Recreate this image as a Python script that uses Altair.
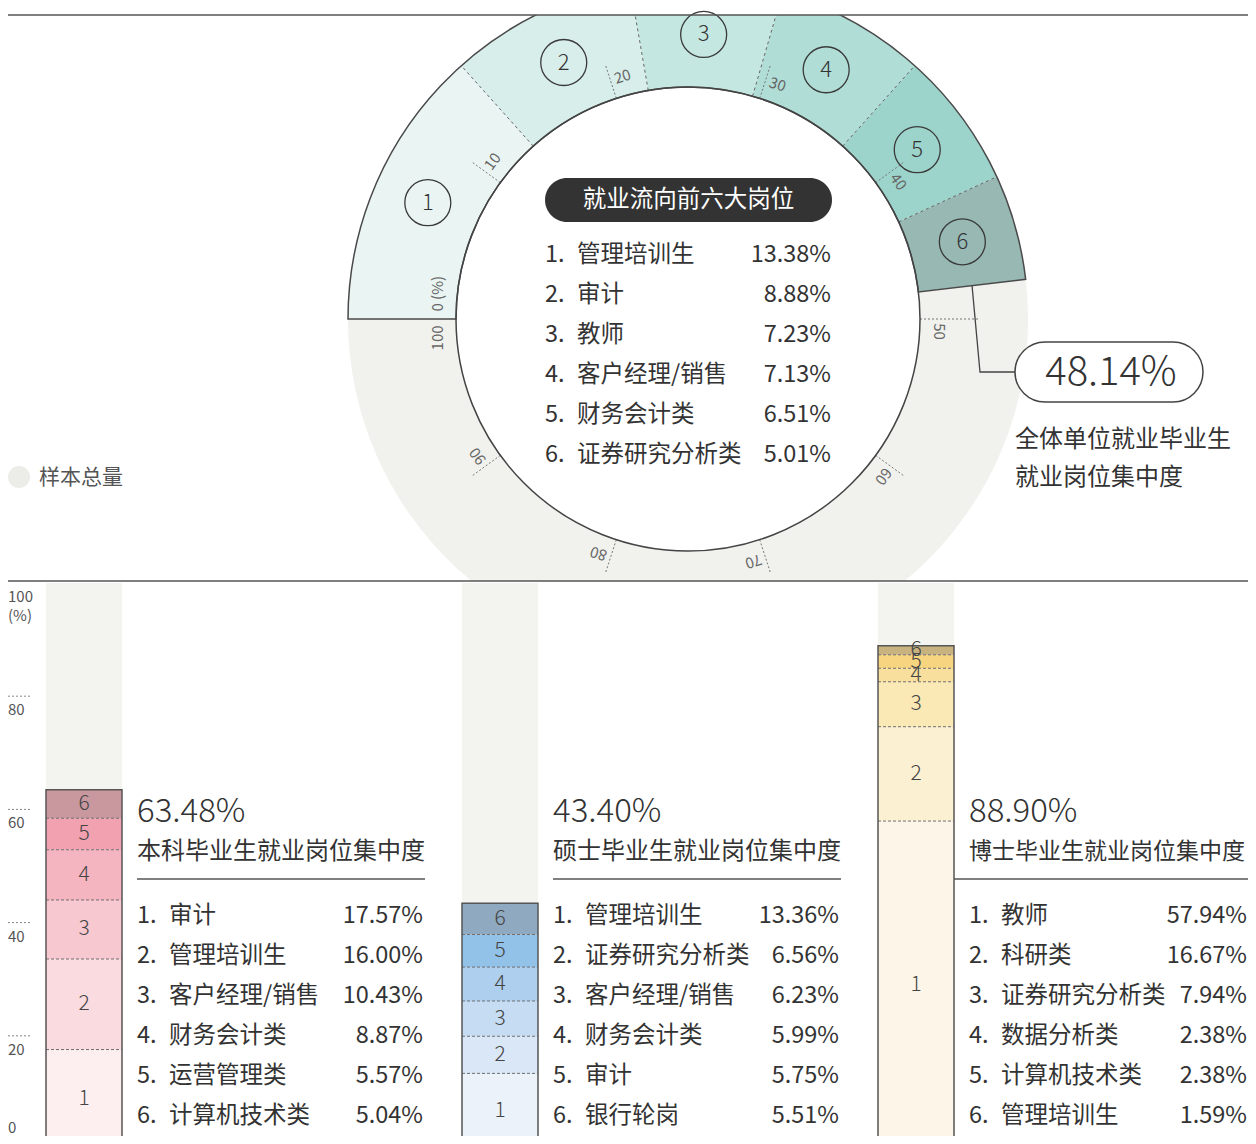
import math
import altair as alt
import pandas as pd

# ---------------- data ----------------
top_jobs = ["管理培训生", "审计", "教师", "客户经理/销售", "财务会计类", "证券研究分析类"]
top_pct = [13.38, 8.88, 7.23, 7.13, 6.51, 5.01]
top_total = 48.14
ring_ticks = [10, 20, 30, 40, 50, 60, 70, 80, 90]

group_titles = ["本科毕业生就业岗位集中度", "硕士毕业生就业岗位集中度", "博士毕业生就业岗位集中度"]
group_totals = [63.48, 43.40, 88.90]
ug_jobs = ["审计", "管理培训生", "客户经理/销售", "财务会计类", "运营管理类", "计算机技术类"]
ug_pct = [17.57, 16.00, 10.43, 8.87, 5.57, 5.04]
ms_jobs = ["管理培训生", "证券研究分析类", "客户经理/销售", "财务会计类", "审计", "银行轮岗"]
ms_pct = [13.36, 6.56, 6.23, 5.99, 5.75, 5.51]
phd_jobs = ["教师", "科研类", "证券研究分析类", "数据分析类", "计算机技术类", "管理培训生"]
phd_pct = [57.94, 16.67, 7.94, 2.38, 2.38, 1.59]
axis_ticks = [0, 20, 40, 60, 80, 100]

# ---------------- style ----------------
FONT = "Noto Sans CJK SC"
INK = "#333333"
W, H = 1240, 1121
CX, CY = 680, 304
R_OUT, R_IN, R_MID, R_LAB = 340, 232, 285, 251
ring_colors = ["#eaf5f3", "#d8eeea", "#c5e7e1", "#b0ddd6", "#9cd4cb", "#97b8b3"]
REST = "#f1f1ed"
group_colors = [
    ["#fdeeef", "#fadbe0", "#f8c8d0", "#f5b5c0", "#f1a1b0", "#c9989f"],
    ["#ecf2f9", "#d9e7f6", "#c5dcf2", "#aecfee", "#93c2e8", "#8fa9c0"],
    ["#fdf6e8", "#fcf0d3", "#fae8b5", "#f9df9d", "#f7d47f", "#c8b27f"],
]
COL_BG = "#f3f3ef"

XP = alt.Scale(domain=[0, W], range=[0, W], nice=False, zero=False, padding=0)
YP = alt.Scale(domain=[0, H], range=[0, H], nice=False, zero=False, padding=0)
TS = alt.Scale(domain=[0, 100], range=[1.5 * math.pi, 3.5 * math.pi], nice=False, zero=False)
XG = alt.Scale(domain=[0, 2], range=[76, 908], nice=False, zero=False, padding=0)
YV = alt.Scale(domain=[0, 100], range=[1134, 568], nice=False, zero=False, padding=0)
HW = 38 / 416  # half bar width in group units


def X(f):
    return alt.X(f, type="quantitative", scale=XP, axis=None)


def Y(f):
    return alt.Y(f, type="quantitative", scale=YP, axis=None)


def XGf(f):
    return alt.X(f, type="quantitative", scale=XG, axis=None)


def YVf(f):
    return alt.Y(f, type="quantitative", scale=YV, axis=None)


def pol(vexpr, r):
    a = f"(1.5 + ({vexpr})/50)*PI"
    return f"{CX} + ({r})*sin({a})", f"{CY} - ({r})*cos({a})"


def txt(**kw):
    base = dict(font=FONT, color=INK, baseline="middle")
    base.update(kw)
    return base


layers = []

# ---------------- ring ----------------
keys, starts, ends = [], [], []
c = 0.0
for i, v in enumerate(top_pct):
    keys.append(str(i + 1))
    starts.append(c)
    c += v
    ends.append(c)
keys.append("rest")
starts.append(c)
ends.append(100)
ring_df = pd.DataFrame({"key": keys, "start": starts, "end": ends})

layers.append(
    alt.Chart(ring_df).mark_arc(radius=R_OUT, radius2=R_IN, clip=True, strokeWidth=0).encode(
        theta=alt.Theta("start:Q", scale=TS, stack=None),
        theta2=alt.Theta2("end:Q"),
        color=alt.Color("key:N", scale=alt.Scale(domain=keys, range=ring_colors + [REST]), legend=None),
        x=alt.value(CX), y=alt.value(CY),
    )
)

# dashed separators between segments
bnd_df = pd.DataFrame({"v": ends[:5]})
xa, ya = pol("datum.v", R_IN)
xb, yb = pol("datum.v", R_OUT)
layers.append(
    alt.Chart(bnd_df).transform_calculate(xa=xa, ya=ya, xb=xb, yb=yb)
    .mark_rule(clip=True, color="#666666", strokeWidth=1, strokeDash=[3, 3])
    .encode(x=X("xa"), y=Y("ya"), x2="xb:Q", y2="yb:Q")
)

# ticks
tick_df = pd.DataFrame({"v": ring_ticks})
xa, ya = pol("datum.v", R_IN)
xb, yb = pol("datum.v", "datum.ro")
layers.append(
    alt.Chart(tick_df).transform_calculate(ro="datum.v == 50 ? 292 : 268")
    .transform_calculate(xa=xa, ya=ya, xb=xb, yb=yb)
    .mark_rule(clip=True, color="#777777", strokeWidth=1, strokeDash=[2, 2])
    .encode(x=X("xa"), y=Y("ya"), x2="xb:Q", y2="yb:Q")
)

# outline of the coloured block
layers.append(
    alt.Chart(pd.DataFrame({"start": [0], "end": [top_total]}))
    .mark_arc(radius=R_OUT, radius2=R_IN, clip=True, fillOpacity=0, stroke="#4a4a4a", strokeWidth=1.5)
    .encode(theta=alt.Theta("start:Q", scale=TS, stack=None), theta2="end:Q",
            x=alt.value(CX), y=alt.value(CY))
)
# inner circle
layers.append(
    alt.Chart(pd.DataFrame({"start": [0], "end": [100]}))
    .mark_arc(radius=R_IN, radius2=0, clip=True, fillOpacity=0, stroke="#444444", strokeWidth=1.5)
    .encode(theta=alt.Theta("start:Q", scale=TS, stack=None), theta2="end:Q",
            x=alt.value(CX), y=alt.value(CY))
)

# mask below the divider
layers.append(
    alt.Chart(pd.DataFrame({"x": [0], "x2": [W], "y": [566], "y2": [H]}))
    .mark_rect(color="white")
    .encode(x=X("x"), x2="x2:Q", y=Y("y"), y2="y2:Q")
)

# tick labels
lab_rows = [{"t": str(v), "pos": v + 0.8, "ang": (270 + 3.6 * v) % 360} for v in ring_ticks]
lab_rows.append({"t": "0 (%)", "pos": 1.6, "ang": 270})
lab_rows.append({"t": "100", "pos": 98.8, "ang": 270})
xa, ya = pol("datum.pos", R_LAB)
layers.append(
    alt.Chart(pd.DataFrame(lab_rows)).transform_calculate(xa=xa, ya=ya)
    .mark_text(**txt(fontSize=15, color="#666666", align="center"))
    .encode(x=X("xa"), y=Y("ya"), text="t:N", angle=alt.Angle("ang:Q", scale=None))
)

# numbered circles
circ_df = pd.DataFrame({"n": [str(i + 1) for i in range(6)],
                        "mid": [s + v / 2 for s, v in zip(starts[:6], top_pct)]})
xa, ya = pol("datum.mid", R_MID)
circ_base = alt.Chart(circ_df).transform_calculate(xa=xa, ya=ya)
layers.append(
    circ_base.mark_point(shape="circle", size=2116, filled=False, color="#3a3a3a", strokeWidth=1.3, opacity=1)
    .encode(x=X("xa"), y=Y("ya"))
)
layers.append(
    circ_base.mark_text(**txt(fontSize=22, fontWeight=300, align="center"))
    .encode(x=X("xa"), y=Y("ya"), text="n:N")
)

# center title pill
layers.append(
    alt.Chart(pd.DataFrame({"x": [537], "x2": [824], "y": [163], "y2": [207]}))
    .mark_rect(cornerRadius=22, color="#333333")
    .encode(x=X("x"), x2="x2:Q", y=Y("y"), y2="y2:Q")
)
layers.append(
    alt.Chart(pd.DataFrame({"t": ["就业流向前六大岗位"], "x": [680.5], "y": [185]}))
    .mark_text(**txt(fontSize=23.5, color="white", align="center"))
    .encode(x=X("x"), y=Y("y"), text="t:N")
)

# center list
top_list = pd.DataFrame({
    "i": list(range(6)),
    "num": [f"{i + 1}." for i in range(6)],
    "name": top_jobs,
    "pct": [f"{v:.2f}%" for v in top_pct],
})
tl = alt.Chart(top_list).transform_calculate(ry="240 + 40*datum.i")
layers.append(tl.mark_text(**txt(fontSize=23.5, align="left")).encode(x=alt.value(537), y=Y("ry"), text="num:N"))
layers.append(tl.mark_text(**txt(fontSize=23.5, align="left")).encode(x=alt.value(569), y=Y("ry"), text="name:N"))
layers.append(tl.mark_text(**txt(fontSize=23.5, align="right")).encode(x=alt.value(823), y=Y("ry"), text="pct:N"))

# legend
layers.append(
    alt.Chart(pd.DataFrame({"x": [11], "y": [462]}))
    .mark_point(shape="circle", size=484, filled=True, color="#ecece8", opacity=1)
    .encode(x=X("x"), y=Y("y"))
)
layers.append(
    alt.Chart(pd.DataFrame({"t": ["样本总量"], "x": [31], "y": [463]}))
    .mark_text(**txt(fontSize=21, color="#555555", align="left"))
    .encode(x=X("x"), y=Y("y"), text="t:N")
)

# callout connector
a_end = (1.5 + top_total / 50) * math.pi
sx, sy = CX + 286 * math.sin(a_end), CY - 286 * math.cos(a_end)
conn = pd.DataFrame({"o": [0, 1, 2], "x": [sx, 972, 1007], "y": [sy, 357, 357]})
layers.append(
    alt.Chart(conn).mark_line(color="#444444", strokeWidth=1.3)
    .encode(x=X("x"), y=Y("y"), order="o:Q")
)
layers.append(
    alt.Chart(pd.DataFrame({"x": [1007], "x2": [1195], "y": [327], "y2": [387]}))
    .mark_rect(cornerRadius=30, fill="white", stroke="#444444", strokeWidth=1.5)
    .encode(x=X("x"), x2="x2:Q", y=Y("y"), y2="y2:Q")
)
layers.append(
    alt.Chart(pd.DataFrame({"t": [f"{top_total:.2f}%"], "x": [1103], "y": [358]}))
    .mark_text(**txt(fontSize=40, fontWeight=300, align="center"))
    .encode(x=X("x"), y=Y("y"), text="t:N")
)
layers.append(
    alt.Chart(pd.DataFrame({"t": ["全体单位就业毕业生", "就业岗位集中度"], "x": [1007, 1007], "y": [425, 463]}))
    .mark_text(**txt(fontSize=24, align="left"))
    .encode(x=X("x"), y=Y("y"), text="t:N")
)

# ---------------- bottom panel ----------------
gdf = pd.DataFrame({"g": [0, 1, 2], "lo": [0, 0, 0], "hi": [100, 100, 100],
                    "total": group_totals,
                    "tt": [f"{v:.2f}%" for v in group_totals],
                    "title": group_titles})
layers.append(
    alt.Chart(gdf).mark_bar(size=76, clip=True, color=COL_BG)
    .encode(x=XGf("g"), y=YVf("lo"), y2="hi:Q")
)

# divider lines
layers.append(
    alt.Chart(pd.DataFrame({"x": [0, 0], "x2": [W, W], "y": [0, 566]}))
    .mark_rule(color="#555555", strokeWidth=1.5)
    .encode(x=X("x"), x2="x2:Q", y=Y("y"))
)

seg_rows, bnd_rows, list_rows = [], [], []
seg_keys, seg_cols = [], []
for g, (jobs, pcts) in enumerate([(ug_jobs, ug_pct), (ms_jobs, ms_pct), (phd_jobs, phd_pct)]):
    c = 0.0
    for r, v in enumerate(pcts):
        k = f"{g}-{r + 1}"
        seg_rows.append({"g": g, "key": k, "lo": c, "hi": c + v, "mid": c + v / 2, "n": str(r + 1)})
        seg_keys.append(k)
        seg_cols.append(group_colors[g][r])
        c += v
        if r < len(pcts) - 1:
            bnd_rows.append({"g": g, "v": c})
        list_rows.append({"g": g, "r": r, "num": f"{r + 1}.", "name": jobs[r], "pct": f"{v:.2f}%"})
seg_df = pd.DataFrame(seg_rows)

layers.append(
    alt.Chart(seg_df).mark_bar(size=76, clip=True, strokeWidth=0)
    .encode(x=XGf("g"), y=YVf("lo"), y2="hi:Q",
            color=alt.Color("key:N", scale=alt.Scale(domain=seg_keys, range=seg_cols), legend=None))
)
layers.append(
    alt.Chart(pd.DataFrame(bnd_rows)).transform_calculate(xa=f"datum.g - {HW}", xb=f"datum.g + {HW}")
    .mark_rule(color="#6f6f6f", strokeWidth=1, strokeDash=[3, 2])
    .encode(x=XGf("xa"), x2="xb:Q", y=YVf("v"))
)
layers.append(
    alt.Chart(gdf).mark_bar(size=76, clip=True, fillOpacity=0, stroke="#555555", strokeWidth=1.5)
    .encode(x=XGf("g"), y=YVf("lo"), y2="total:Q")
)
layers.append(
    alt.Chart(seg_df).mark_text(**txt(fontSize=21, fontWeight=300, color="#444444", align="center"))
    .encode(x=XGf("g"), y=YVf("mid"), text="n:N")
)

# y axis
ax_df = pd.DataFrame({"v": axis_ticks, "t": [str(v) for v in axis_ticks]})
layers.append(
    alt.Chart(ax_df).transform_filter("datum.v > 0 && datum.v < 100")
    .mark_rule(color="#888888", strokeWidth=1, strokeDash=[2, 2])
    .encode(x=alt.value(0), x2=alt.value(22), y=YVf("v"))
)
layers.append(
    alt.Chart(ax_df).transform_filter("datum.v > 0")
    .mark_text(**txt(fontSize=15, color="#555555", align="left", dy=14))
    .encode(x=alt.value(0), y=YVf("v"), text="t:N")
)
layers.append(
    alt.Chart(ax_df).transform_filter("datum.v == 100").transform_calculate(u="'(%)'")
    .mark_text(**txt(fontSize=15, color="#555555", align="left", dy=33))
    .encode(x=alt.value(0), y=YVf("v"), text="u:N")
)
layers.append(
    alt.Chart(ax_df).transform_filter("datum.v == 0")
    .mark_text(**txt(fontSize=15, color="#555555", align="left", dy=-21))
    .encode(x=alt.value(0), y=YVf("v"), text="t:N")
)

# headers
hb = alt.Chart(gdf).transform_calculate(ry1="797", ry2="837", ry3="864",
                                        fs="datum.g == 2 ? 23 : 24")
layers.append(
    hb.mark_text(**txt(fontSize=33, fontWeight=300, align="left", dx=53))
    .encode(x=XGf("g"), y=Y("ry1"), text="tt:N")
)
layers.append(
    hb.mark_text(**txt(align="left", dx=53))
    .encode(x=XGf("g"), y=Y("ry2"), text="title:N", size=alt.Size("fs:Q", scale=None))
)
layers.append(
    hb.transform_calculate(xa=f"datum.g == 2 ? datum.g + {HW} : datum.g + 53/416", xb="datum.g + 341/416")
    .mark_rule(color="#555555", strokeWidth=1.5)
    .encode(x=XGf("xa"), x2="xb:Q", y=Y("ry3"))
)

# lists
lb = alt.Chart(pd.DataFrame(list_rows)).transform_calculate(
    ry="901 + 40*datum.r", xr="datum.g + (datum.g == 2 ? 331 : 339)/416")
layers.append(
    lb.mark_text(**txt(fontSize=23.5, align="left", dx=53))
    .encode(x=XGf("g"), y=Y("ry"), text="num:N")
)
layers.append(
    lb.mark_text(**txt(fontSize=23.5, align="left", dx=85))
    .encode(x=XGf("g"), y=Y("ry"), text="name:N")
)
layers.append(
    lb.mark_text(**txt(fontSize=23.5, align="right"))
    .encode(x=XGf("xr"), y=Y("ry"), text="pct:N")
)

chart = (
    alt.layer(*layers)
    .resolve_scale(x="independent", y="independent", color="independent")
    .properties(width=W, height=H, padding={"left": 0, "top": 7, "right": 0, "bottom": 0},
                autosize=alt.AutoSizeParams(type="none"), background="white")
    .configure_view(stroke=None)
)

chart.save("out.html", embed_options={"renderer": "svg", "actions": False})
